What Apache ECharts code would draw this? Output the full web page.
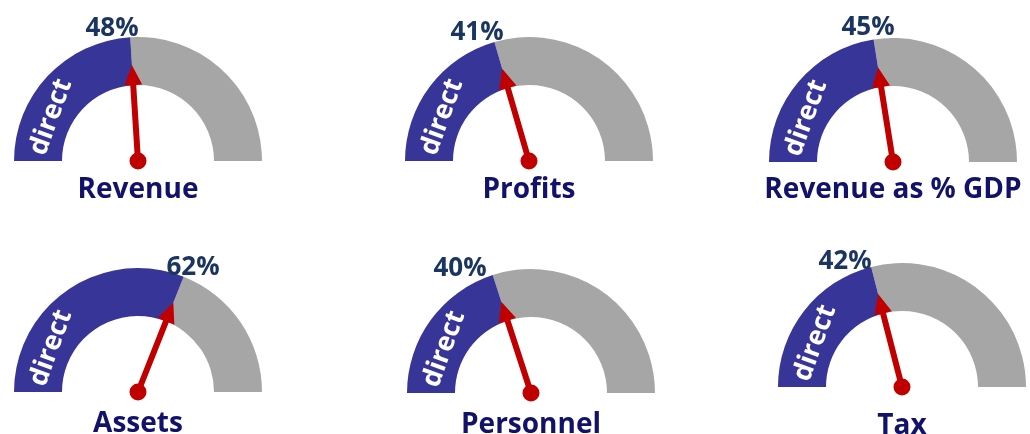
<!DOCTYPE html>
<html>
<head>
<meta charset="utf-8">
<script src="https://cdn.jsdelivr.net/npm/echarts@6/dist/echarts.min.js"></script>
<style>
html, body { margin: 0; padding: 0; background: #fff; }
#main { width: 1030px; height: 434px; }
</style>
</head>
<body>
<div id="main"></div>
<script>
var chart = echarts.init(document.getElementById('main'));

// data
var names = ['Revenue', 'Profits', 'Revenue as % GDP', 'Assets', 'Personnel', 'Tax'];
var values = [48, 41, 45, 62, 40, 42];
var bandText = 'direct';

// layout (px) - gauge centres, % label offsets, title offsets
var centers = [[138, 161], [529, 161], [893, 162], [138, 392], [531, 393], [902, 387]];
var pctOffsets = [[-26, -132], [-52, -128], [-25, -134], [55, -124], [-71, -124], [-57, -125]];
var titleOffsets = [29, 29, 28, 32, 32, 39];

var blue = '#383598';
var grey = '#a6a6a6';
var red = '#c00000';
var font = 'Open Sans';

var series = [];
var graphics = [];
for (var i = 0; i < names.length; i++) {
    series.push({
        type: 'gauge',
        center: centers[i],
        radius: 124,
        startAngle: 180,
        endAngle: 0,
        min: 0,
        max: 100,
        axisLine: {
            lineStyle: {
                width: 48,
                color: [[values[i] / 100, blue], [1, grey]]
            }
        },
        axisTick: { show: false },
        splitLine: { show: false },
        axisLabel: { show: false },
        pointer: {
            icon: 'path://M9,0 L18,20 L12,20 L12,96 L6,96 L6,20 L0,20 Z',
            length: 96,
            width: 18,
            itemStyle: { color: red }
        },
        anchor: {
            show: true,
            showAbove: true,
            size: 17,
            icon: 'circle',
            itemStyle: { color: red }
        },
        title: {
            offsetCenter: [0, titleOffsets[i]],
            fontFamily: font,
            fontWeight: 'bold',
            fontSize: 28,
            color: '#12126b'
        },
        detail: {
            offsetCenter: pctOffsets[i],
            formatter: '{value}%',
            fontFamily: font,
            fontWeight: 'bold',
            fontSize: 26,
            color: '#1b3561'
        },
        data: [{ value: values[i], name: names[i] }]
    });
    graphics.push({
        type: 'text',
        x: centers[i][0] - 87,
        y: centers[i][1] - 44,
        rotation: 70 * Math.PI / 180,
        z: 100,
        style: {
            text: bandText,
            fill: '#fff',
            font: 'bold 27px "Open Sans"',
            align: 'center',
            verticalAlign: 'middle'
        }
    });
}

var option = {
    backgroundColor: '#fff',
    animation: false,
    series: series,
    graphic: graphics
};

chart.setOption(option);
</script>
</body>
</html>
